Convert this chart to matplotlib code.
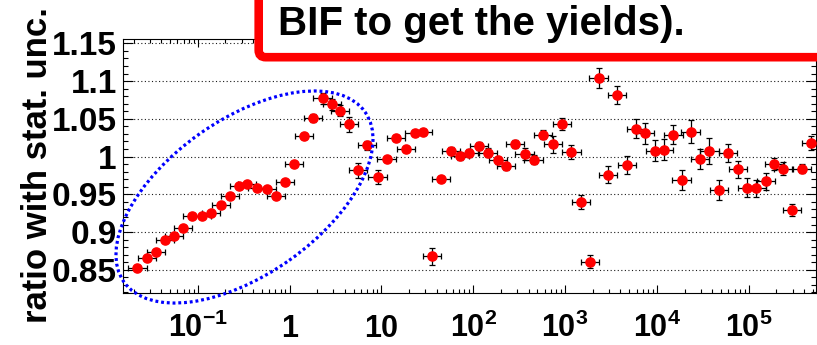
import numpy as np
import matplotlib
matplotlib.use("Agg")
import matplotlib.pyplot as plt
from matplotlib.patches import Ellipse, FancyBboxPatch
from matplotlib.ticker import FixedLocator, LogLocator, MultipleLocator, NullFormatter
import matplotlib.transforms as mtransforms

plt.rcParams["font.family"] = ["Liberation Sans", "DejaVu Sans"]
plt.rcParams["font.weight"] = "bold"
plt.rcParams["mathtext.fontset"] = "custom"
plt.rcParams["mathtext.rm"] = "Liberation Sans:bold"
plt.rcParams["mathtext.bf"] = "Liberation Sans:bold"
plt.rcParams["mathtext.it"] = "Liberation Sans:bold"
plt.rcParams["mathtext.default"] = "bf"

# bin centres
x = [0.0220, 0.0280, 0.0353, 0.0440, 0.0551, 0.0695, 0.0871, 0.111, 0.140, 0.178,
     0.223, 0.281, 0.346, 0.445, 0.564, 0.706, 0.891, 1.12, 1.43, 1.81,
     2.29, 2.90, 3.52, 4.44, 5.60, 7.01, 9.10, 11.4, 14.4, 18.4,
     23.0, 28.1, 35.8, 44.9, 56.8, 71.8, 90.6, 115, 145, 186,
     228, 287, 363, 455, 579, 733, 925, 1170, 1480, 1870,
     2320, 2910, 3670, 4690, 5920, 7410, 9460, 11900, 15100, 18600,
     23300, 29400, 37200, 47100, 59800, 75900, 96400, 121000, 153000, 190000,
     236000, 298000, 380000, 480000]

# ratio values
ratio = [0.852, 0.865, 0.873, 0.889, 0.895, 0.906, 0.921, 0.921, 0.925, 0.936,
         0.948, 0.961, 0.963, 0.959, 0.957, 0.948, 0.966, 0.990, 1.027, 1.051,
         1.077, 1.069, 1.061, 1.043, 0.982, 1.015, 0.973, 0.997, 1.025, 1.010,
         1.031, 1.032, 0.868, 0.970, 1.008, 1.001, 1.005, 1.014, 1.005, 0.995,
         0.987, 1.017, 1.004, 0.996, 1.029, 1.016, 1.043, 1.006, 0.940, 0.861,
         1.104, 0.976, 1.082, 0.989, 1.037, 1.031, 1.008, 1.009, 1.029, 0.969,
         1.033, 0.997, 1.007, 0.956, 1.005, 0.983, 0.959, 0.958, 0.967, 0.990,
         0.984, 0.929, 0.984, 1.018]

# statistical uncertainty on the ratio
stat_unc = [0.002, 0.002, 0.002, 0.002, 0.002, 0.002, 0.002, 0.002, 0.002, 0.002,
            0.002, 0.003, 0.003, 0.003, 0.003, 0.003, 0.003, 0.003, 0.004, 0.005,
            0.007, 0.007, 0.007, 0.010, 0.010, 0.006, 0.009, 0.004, 0.004, 0.004,
            0.004, 0.004, 0.011, 0.004, 0.005, 0.005, 0.005, 0.005, 0.006, 0.005,
            0.005, 0.005, 0.008, 0.006, 0.006, 0.011, 0.008, 0.009, 0.009, 0.009,
            0.013, 0.011, 0.012, 0.012, 0.013, 0.014, 0.014, 0.014, 0.013, 0.013,
            0.015, 0.013, 0.017, 0.013, 0.012, 0.011, 0.012, 0.011, 0.011, 0.008,
            0.009, 0.008, 0.006, 0.009]

xtick_vals = [0.1, 1, 10, 100, 1e3, 1e4, 1e5]
xtick_labels = [r"$10^{-1}$", r"$1$", r"$10$", r"$10^{2}$", r"$10^{3}$", r"$10^{4}$", r"$10^{5}$"]
ytick_vals = [0.85, 0.90, 0.95, 1.00, 1.05, 1.10, 1.15]
ytick_labels = ["0.85", "0.9", "0.95", "1", "1.05", "1.1", "1.15"]

y_title = "ratio with stat. unc."
box_text = "BIF to get the yields)."

W, H, DPI = 817, 345, 100
fig = plt.figure(figsize=(W / DPI, H / DPI), dpi=DPI)
ax = fig.add_axes([123 / W, 52 / H, (815.5 - 123) / W, 254 / H])

ax.set_xscale("log")
ax.set_xlim(0.01535, 5.33e5)
ax.set_ylim(0.8193, 1.1557)

# horizontal bar spans one bin on either side in log space
half_dec = 0.1
xa = np.array(x)
xerr = [xa - xa / 10 ** half_dec, xa * 10 ** half_dec - xa]

ax.grid(False)
for yv in ytick_vals:
    ax.axhline(yv, color="0.1", lw=0.8, ls=(0, (1, 2.2)), zorder=1)

ax.errorbar(x, ratio, yerr=stat_unc, xerr=xerr, fmt="o", color="#ff0000",
            ms=6.6, mec="#ff0000", ecolor="black", elinewidth=0.9,
            capsize=2.2, capthick=0.9, zorder=3)

# ticks on all four sides, pointing inward
ax.yaxis.set_major_locator(FixedLocator(ytick_vals))
ax.set_yticklabels(ytick_labels)
ax.yaxis.set_minor_locator(MultipleLocator(0.01))
ax.xaxis.set_major_locator(LogLocator(base=10, numticks=20))
ax.xaxis.set_minor_locator(LogLocator(base=10, subs=np.arange(2, 10), numticks=20))
ax.xaxis.set_major_formatter(NullFormatter())
ax.xaxis.set_minor_formatter(NullFormatter())
ax.tick_params(axis="both", which="both", direction="in", top=True, right=True,
               colors="black", width=0.8)
ax.tick_params(axis="y", which="major", length=7.5, labelsize=24, pad=4.5)
ax.tick_params(axis="y", which="minor", length=3.8)
ax.tick_params(axis="x", which="major", length=6)
ax.tick_params(axis="x", which="minor", length=3)
for lab in ax.get_yticklabels():
    lab.set_fontweight("bold")
for sp in ax.spines.values():
    sp.set_linewidth(0.8)

# decade labels sharing a common baseline
blend = mtransforms.blended_transform_factory(ax.transData, ax.transAxes)
for xv, lab in zip(xtick_vals, xtick_labels):
    ax.text(xv, -44 / 254, lab, transform=blend, ha="center", va="baseline",
            fontsize=22, fontweight="bold", clip_on=False)

inch = fig.dpi_scale_trans
fig.text(47 / DPI, (H - 323) / DPI, y_title, transform=inch, rotation=90,
         rotation_mode="anchor", ha="left", va="baseline", fontsize=25,
         fontweight="bold")

# dotted ellipse around the low-x points
ell = Ellipse((244.5 / DPI, (H - 197) / DPI), 295 / DPI, 155 / DPI, angle=35.2,
              transform=inch, fill=False, edgecolor="#0000ff", lw=2.3,
              ls=(0, (0.9, 0.9)), zorder=10)
fig.add_artist(ell)

# framed note box
box = FancyBboxPatch((258.7 / DPI, (H - 57.2) / DPI), 8.0, 2.0,
                     boxstyle="round,pad=0,rounding_size=0.07", transform=inch,
                     facecolor="white", edgecolor="#ff0000", lw=6.2, zorder=11)
fig.add_artist(box)
fig.text(278 / DPI, (H - 35) / DPI, box_text, transform=inch, ha="left",
         va="baseline", fontsize=29, fontweight="bold", zorder=12)

fig.savefig("out.png", dpi=DPI)
